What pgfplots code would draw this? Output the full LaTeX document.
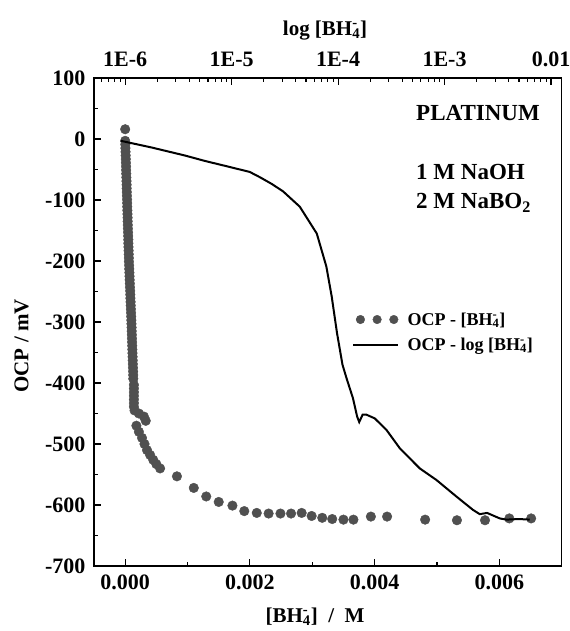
\documentclass[border=0pt]{standalone}
\usepackage{fontspec}
\setmainfont{Liberation Serif}
\usepackage{pgfplots}
\pgfplotsset{compat=1.18}
\definecolor{dotgray}{RGB}{80,80,80}
\newcommand{\bh}{[BH\rlap{\textsuperscript{-}}\textsubscript{4}]}
\begin{document}
\begin{tikzpicture}
\pgfplotsset{
  base/.style={scale only axis, width=467.7pt, height=488pt, ymin=-700, ymax=100,
    tick align=inside, major tick length=7pt, minor tick length=4pt,
    every tick label/.append style={font=\fontsize{22}{26}\selectfont\bfseries},
    axis line style={line width=1.2pt},
    every tick/.style={black, line width=1.1pt},
    label style={font=\fontsize{21}{25}\selectfont\bfseries}},
}
\begin{axis}[base,
  xmin=-0.0005, xmax=0.007, scaled x ticks=false,
  xtick={0,0.002,0.004,0.006}, xticklabels={0.000,0.002,0.004,0.006},
  minor xtick={0.001,0.003,0.005},
  xtick pos=lower, ytick pos=left,
  ytick={-700,-600,-500,-400,-300,-200,-100,0,100},
  yticklabels={-700,-600,-500,-400,-300,-200,-100,0,100},
  minor ytick={-650,-550,-450,-350,-250,-150,-50,50},
  xticklabel style={yshift=-5pt},
  yticklabel style={xshift=-5pt},
  xlabel={\bh\ \ /\ \ M},
  ylabel={OCP / mV},
  xlabel style={at={(axis description cs:0.4725,-0.1148)}, anchor=base},
  ylabel style={at={(axis description cs:-0.155,0.451)}, anchor=center},
  legend style={at={(rel axis cs:0.5457,0.528)}, anchor=north west, draw=none, fill=none,
    font=\fontsize{18}{21}\selectfont\bfseries, row sep=7pt,
    cells={anchor=west}},
]
\coordinate (SW) at (rel axis cs:0,0);
\coordinate (NE) at (rel axis cs:1,1);
\addplot[only marks, mark=*, mark size=4.8pt, color=dotgray, mark options={draw=dotgray, fill=dotgray},
  legend image code/.code={\fill[dotgray] (0pt,0pt) circle (4.3pt) (16.7pt,0pt) circle (4.3pt) (33.4pt,0pt) circle (4.3pt); \path (45pt,0pt);}]
coordinates {
(0,16) (0,-3) (0.000002,-9) (0.000004,-15) (0.000006,-21) (0.000008,-27) (0.00001,-33)
(0.000012,-39) (0.000014,-45) (0.000015,-51) (0.000017,-57) (0.000019,-63) (0.000021,-69)
(0.000023,-75) (0.000024,-81) (0.000026,-87) (0.000028,-93) (0.00003,-99) (0.000032,-105)
(0.000033,-111) (0.000035,-117) (0.000037,-123) (0.000039,-129) (0.00004,-135) (0.000042,-141)
(0.000044,-147) (0.000046,-153) (0.000048,-159) (0.00005,-165) (0.000051,-171) (0.000053,-177)
(0.000055,-183) (0.000057,-189) (0.000059,-195) (0.00006,-201) (0.000063,-207) (0.000065,-213)
(0.000068,-219) (0.00007,-225) (0.000072,-231) (0.000075,-237) (0.000077,-243) (0.00008,-249)
(0.000082,-255) (0.000084,-261) (0.000087,-267) (0.000089,-273) (0.000092,-279) (0.000094,-285)
(0.000097,-291) (0.000099,-297) (0.000101,-303) (0.000103,-309) (0.000105,-315) (0.000107,-321)
(0.000109,-327) (0.000111,-333) (0.000113,-339) (0.000115,-345) (0.000117,-351) (0.000119,-357)
(0.000121,-363) (0.000123,-369) (0.000125,-375) (0.000127,-381) (0.000129,-387) (0.00013,-393)
(0.00014,-403) (0.00014,-409) (0.00014,-415) (0.00014,-421) (0.00014,-427) (0.00014,-433)
(0.00014,-439) (0.00015,-445) (0.00022,-450) (0.00030,-455) (0.00033,-462) (0.00018,-470)
(0.00022,-480) (0.00027,-490) (0.00031,-500) (0.00035,-510) (0.00040,-518) (0.00045,-526)
(0.00050,-533) (0.00056,-540) (0.00083,-553) (0.0011,-572) (0.0013,-586) (0.0015,-595)
(0.00172,-601) (0.00191,-610) (0.00211,-613) (0.0023,-614) (0.00249,-614) (0.00266,-614)
(0.00283,-613) (0.00299,-618) (0.00316,-621) (0.00332,-623) (0.0035,-624) (0.00366,-624)
(0.00394,-619) (0.0042,-619) (0.00481,-624) (0.00532,-625) (0.00577,-625) (0.00616,-622)
(0.00651,-622)
};
\addlegendentry{OCP - \bh}
\addlegendimage{legend image code/.code={\draw[black, line width=2pt] (-7pt,0pt) -- (38pt,0pt); \path (45pt,0pt);}}
\addlegendentry{OCP - log \bh}
\node[anchor=base west, font=\fontsize{23}{27}\selectfont\bfseries] at (rel axis cs:0.6814,0.9125) {PLATINUM};
\node[anchor=base west, font=\fontsize{23}{27}\selectfont\bfseries] at (rel axis cs:0.6814,0.791) {1 M NaOH};
\node[anchor=base west, font=\fontsize{23}{27}\selectfont\bfseries] at (rel axis cs:0.6814,0.7316) {2 M NaBO\textsubscript{2}};
\end{axis}
\begin{axis}[base,
  xmode=log, xmin=5.1e-7, xmax=1.26e-2,
  axis x line*=top, hide y axis,
  xtick={1e-6,1e-5,1e-4,1e-3,1e-2}, xticklabels={1E-6,1E-5,1E-4,1E-3,0.01},
  minor xtick={6e-7,7e-7,8e-7,9e-7,
    2e-6,3e-6,4e-6,5e-6,6e-6,7e-6,8e-6,9e-6,
    2e-5,3e-5,4e-5,5e-5,6e-5,7e-5,8e-5,9e-5,
    2e-4,3e-4,4e-4,5e-4,6e-4,7e-4,8e-4,9e-4,
    2e-3,3e-3,4e-3,5e-3,6e-3,7e-3,8e-3,9e-3},
  xticklabel style={yshift=8pt},
  xlabel={log \bh},
  xlabel style={at={(axis description cs:0.494,1.088)}, anchor=base},
]
\addplot[black, line width=2pt] coordinates {
(9.12e-7,-3) (1.78e-6,-14) (3.63e-6,-27) (5.62e-6,-36) (9.66e-6,-46) (1.48e-5,-54)
(1.86e-5,-63) (2.40e-5,-74) (3.05e-5,-86) (4.37e-5,-111) (6.31e-5,-155) (7.76e-5,-209)
(8.71e-5,-258) (9.77e-5,-318) (1.10e-4,-370) (1.20e-4,-392) (1.38e-4,-425) (1.51e-4,-455)
(1.58e-4,-464) (1.70e-4,-452) (1.85e-4,-452) (2.21e-4,-458) (2.85e-4,-477) (3.80e-4,-507)
(5.85e-4,-540) (8.39e-4,-559) (1.29e-3,-586) (1.85e-3,-608) (2.14e-3,-615) (2.51e-3,-613)
(2.75e-3,-616) (3.30e-3,-622) (3.80e-3,-624) (5.01e-3,-623) (6.31e-3,-624)
};
\end{axis}
\pgfresetboundingbox
\path ([shift={(-94pt,-65pt)}]SW) rectangle ([shift={(7.3pt,78pt)}]NE);
\end{tikzpicture}
\end{document}
